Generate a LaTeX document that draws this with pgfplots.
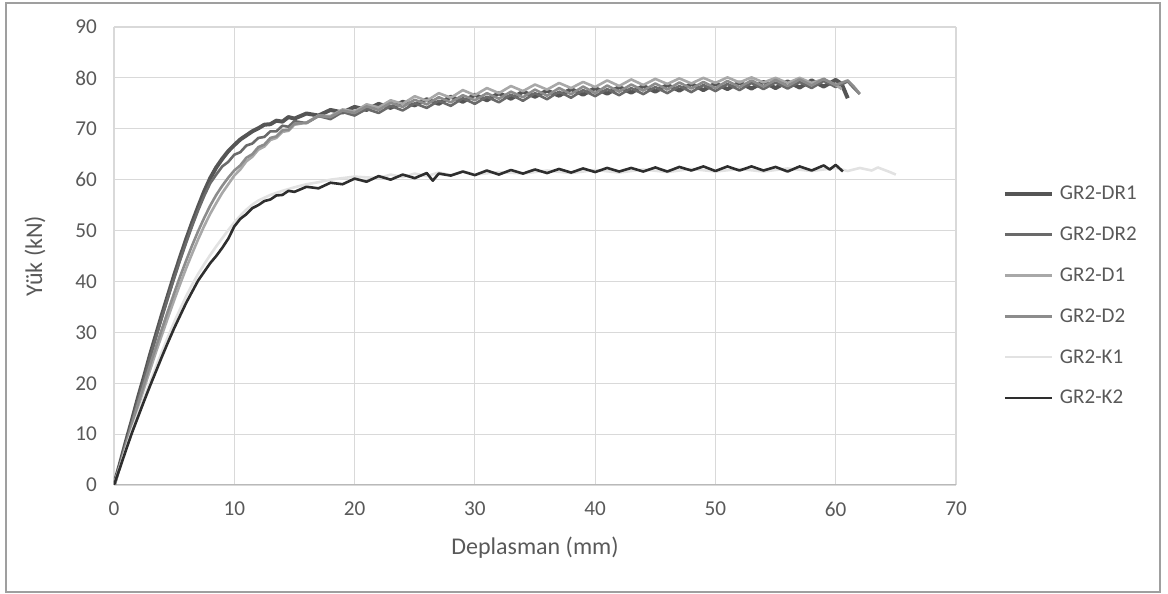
\documentclass[border=0pt]{standalone}
\usepackage{pgfplots}
\pgfplotsset{compat=1.18}
\usepackage{fontspec}
\setmainfont{Carlito}
\definecolor{txt}{HTML}{595959}
\definecolor{gridc}{HTML}{D9D9D9}
\definecolor{cDRa}{HTML}{555555}
\definecolor{cDRb}{HTML}{6A6A6A}
\definecolor{cDa}{HTML}{A8A8A8}
\definecolor{cDb}{HTML}{8C8C8C}
\definecolor{cKa}{HTML}{E2E2E2}
\definecolor{cKb}{HTML}{2E2E2E}
\begin{document}
\begin{tikzpicture}
\useasboundingbox (0,0) rectangle (584pt,297pt);
\draw[color=gray!75, line width=1pt] (3pt,1pt) rectangle (580pt,295.5pt);
\begin{axis}[
  at={(57pt,54.5pt)}, anchor=south west,
  scale only axis, width=421pt, height=229pt,
  xmin=0, xmax=70, ymin=0, ymax=90,
  xtick={0,10,...,70}, ytick={0,10,...,90},
  grid=major, grid style={color=gridc, line width=0.6pt},
  axis line style={draw=none},
  major tick length=0pt,
  /pgf/number format/assume math mode=true,
  ticklabel style={font=\fontsize{10.6}{12}\selectfont, text=txt},
  xticklabel style={yshift=-5pt},
  yticklabel style={xshift=-5pt},
  xlabel={Deplasman (mm)}, ylabel={Yük (kN)},
  every axis x label/.style={at={(rel axis cs:0.5,0)}, anchor=center, yshift=-31.5pt, font=\fontsize{12}{14}\selectfont, text=txt},
  every axis y label/.style={at={(rel axis cs:0,0.5)}, anchor=center, xshift=-39.5pt, rotate=90, font=\fontsize{12}{14}\selectfont, text=txt},
  legend style={at={(1.0558,0.4127)}, anchor=west, draw=none, fill=none,
    inner sep=0pt, outer sep=0pt, row sep=9.4pt,
    font=\fontsize{10.5}{12}\selectfont, text=txt,
    nodes={inner sep=0pt, text height=8.5pt, text depth=2.5pt}},
  legend cell align=left,
  legend image code/.code={\draw[#1, line cap=butt] (0pt,0pt) -- (23.5pt,0pt);},
  /tikz/every odd column/.style={column sep=3pt},
  every axis plot/.append style={line join=round},
]
\draw[color=gray!55, line width=0.8pt] (axis cs:0,0) -- (axis cs:70,0);
\addplot[color=cDRa, line width=2pt] coordinates {
(0,0)(0.5,4.2)(1,8.6)(1.5,12.8)(2,17.2)(2.5,21.3)(3,25.6)(3.5,29.6)(4,33.6)(4.5,37.4)(5,41.2)(5.5,44.8)(6,48.3)(6.5,51.6)(7,54.7)(7.5,57.7)(8,60.3)(8.5,62.4)(9,64.1)(9.5,65.6)(10,66.8)(10.5,67.9)(11,68.7)(11.5,69.5)(12,70.1)(12.5,70.8)(13,70.9)(13.5,71.6)(14,71.4)(14.5,72.3)(15,72.0)(16,73.0)(17,72.6)(18,73.7)(19,73.2)(20,74.3)(21,73.7)(22,74.9)(23,74.1)(24,75.3)(25,74.6)(26,75.8)(27,74.9)(28,76.3)(29,75.3)(30,76.7)(31,75.6)(32,77.0)(33,75.9)(34,77.3)(35,76.3)(36,77.5)(37,76.5)(38,77.8)(39,76.7)(40,78.0)(41,76.9)(42,78.2)(43,77.1)(44,78.4)(45,77.3)(46,78.6)(47,77.5)(48,78.8)(49,77.6)(50,78.9)(51,77.8)(52,79.1)(53,77.9)(54,79.2)(55,78.0)(56,79.3)(57,78.1)(58,79.5)(59,78.3)(60,79.6)(60.5,78.8)(61,76.0)
};
\addlegendentry{GR2-DR1}
\addplot[color=cDRb, line width=1.3pt] coordinates {
(0,0)(0.5,4.0)(1,8.3)(1.5,12.5)(2,16.8)(2.5,20.8)(3,25.1)(3.5,29.1)(4,33.0)(4.5,36.9)(5,40.6)(5.5,44.2)(6,47.6)(6.5,50.9)(7,54.0)(7.5,56.8)(8,59.3)(8.5,61.0)(9,62.6)(9.5,63.5)(10,64.9)(10.5,65.4)(11,66.7)(11.5,67.1)(12,68.2)(12.5,68.4)(13,69.5)(13.5,69.5)(14,70.6)(14.5,70.4)(15,71.5)(16,71.1)(17,72.5)(18,71.9)(19,73.3)(20,72.6)(21,73.9)(22,73.1)(23,74.5)(24,73.6)(25,75.0)(26,74.1)(27,75.5)(28,74.5)(29,76.0)(30,74.9)(31,76.3)(32,75.2)(33,76.7)(34,75.5)(35,77.0)(36,75.8)(37,77.3)(38,76.1)(39,77.6)(40,76.4)(41,77.8)(42,76.6)(43,78.0)(44,76.8)(45,78.2)(46,77.0)(47,78.4)(48,77.2)(49,78.6)(50,77.4)(51,78.8)(52,77.6)(53,79.0)(54,77.8)(55,79.1)(56,77.9)(57,79.2)(58,78.0)(59,79.4)(60,78.2)(61,79.3)(61.5,78.0)(62,76.8)
};
\addlegendentry{GR2-DR2}
\addplot[color=cDa, line width=1.3pt] coordinates {
(0,0)(0.5,3.7)(1,7.6)(1.5,11.5)(2,15.3)(2.5,19.0)(3,22.6)(3.5,26.2)(4,29.6)(4.5,33.0)(5,36.3)(5.5,39.5)(6,42.6)(6.5,45.5)(7,48.3)(7.5,50.9)(8,53.3)(8.5,55.4)(9,57.4)(9.5,59.1)(10,60.8)(10.5,62.0)(11,63.6)(11.5,64.5)(12,65.9)(12.5,66.5)(13,67.8)(13.5,68.2)(14,69.4)(14.5,69.6)(15,70.8)(16,71.2)(17,72.6)(18,72.5)(19,73.8)(20,73.4)(21,74.8)(22,74.2)(23,75.6)(24,74.9)(25,76.4)(26,75.5)(27,77.0)(28,76.1)(29,77.6)(30,76.6)(31,78.0)(32,77.0)(33,78.4)(34,77.4)(35,78.7)(36,77.7)(37,79.0)(38,78.0)(39,79.2)(40,78.2)(41,79.5)(42,78.4)(43,79.7)(44,78.6)(45,79.8)(46,78.8)(47,79.9)(48,78.9)(49,80.0)(50,79.0)(51,80.1)(52,79.1)(53,80.1)(54,79.1)(55,80.0)(56,79.0)(57,80.0)(58,79.0)(59,79.8)(60,78.6)(60.5,77.8)
};
\addlegendentry{GR2-D1}
\addplot[color=cDb, line width=1.3pt] coordinates {
(0,0)(0.5,3.9)(1,8.0)(1.5,12.0)(2,16.0)(2.5,19.8)(3,23.6)(3.5,27.2)(4,30.8)(4.5,34.3)(5,37.7)(5.5,41.0)(6,44.1)(6.5,47.1)(7,49.9)(7.5,52.5)(8,54.9)(8.5,57.0)(9,58.8)(9.5,60.4)(10,61.8)(10.5,62.8)(11,64.3)(11.5,65.0)(12,66.4)(12.5,66.9)(13,68.2)(13.5,68.5)(14,69.7)(14.5,69.8)(15,71.0)(16,71.2)(17,72.5)(18,72.3)(19,73.6)(20,73.1)(21,74.4)(22,73.7)(23,75.1)(24,74.3)(25,75.7)(26,74.8)(27,76.2)(28,75.2)(29,76.6)(30,75.6)(31,77.0)(32,75.9)(33,77.3)(34,76.2)(35,77.7)(36,76.5)(37,78.0)(38,76.8)(39,78.3)(40,77.0)(41,78.5)(42,77.3)(43,78.7)(44,77.5)(45,78.9)(46,77.7)(47,79.1)(48,77.9)(49,79.2)(50,78.0)(51,79.4)(52,78.2)(53,79.5)(54,78.3)(55,79.6)(56,78.4)(57,79.7)(58,78.5)(59,79.8)(60,78.6)(61,79.5)(61.5,78.3)(62,76.9)
};
\addlegendentry{GR2-D2}
\addplot[color=cKa, line width=1.3pt] coordinates {
(0,0)(0.5,3.6)(1,7.2)(1.5,10.8)(2,14.0)(2.5,17.1)(3,20.2)(3.5,23.3)(4,26.3)(4.5,29.2)(5,32.0)(5.5,34.6)(6,37.1)(6.5,39.4)(7,41.5)(7.5,43.4)(8,45.2)(8.5,46.9)(9,48.5)(9.5,50.1)(10,51.6)(10.5,52.9)(11,54.1)(11.5,55.1)(12,55.9)(13,57.0)(14,57.8)(15,58.5)(16,59.1)(17,59.5)(18,60.0)(19,60.3)(20,60.6)(22,60.3)(23,61.0)(24,60.5)(25,61.2)(26,60.7)(27,61.4)(28,60.9)(29,61.6)(30,61.0)(32,61.5)(34,61.2)(36,61.8)(38,61.3)(40,61.9)(42,61.4)(44,62.0)(46,61.5)(48,62.1)(50,61.6)(52,62.1)(54,61.6)(56,62.2)(58,61.7)(60,62.3)(61,61.7)(62,62.3)(63,61.8)(63.5,62.4)(64.5,61.5)(65,61.0)
};
\addlegendentry{GR2-K1}
\addplot[color=cKb, line width=1.3pt] coordinates {
(0,0)(0.5,3.4)(1,6.9)(1.5,10.3)(2,13.4)(2.5,16.5)(3,19.5)(3.5,22.4)(4,25.3)(4.5,28.1)(5,30.8)(5.5,33.3)(6,35.8)(6.5,38.0)(7,40.2)(7.5,41.9)(8,43.6)(8.5,45.0)(9,46.6)(9.5,48.4)(10,50.8)(10.5,52.3)(11,53.2)(11.5,54.4)(12,55.0)(12.5,55.8)(13,56.1)(13.5,56.9)(14,57.0)(14.5,57.8)(15,57.6)(16,58.6)(17,58.3)(18,59.4)(19,59.1)(20,60.2)(21,59.6)(22,60.7)(23,60.0)(24,61.0)(25,60.3)(26,61.3)(26.5,59.8)(27,61.2)(28,60.8)(29,61.6)(30,60.9)(31,61.8)(32,61.0)(33,61.9)(34,61.2)(35,62.0)(36,61.3)(37,62.1)(38,61.4)(39,62.2)(40,61.5)(41,62.3)(42,61.6)(43,62.3)(44,61.6)(45,62.4)(46,61.6)(47,62.5)(48,61.8)(49,62.6)(50,61.7)(51,62.6)(52,61.8)(53,62.6)(54,61.8)(55,62.5)(56,61.6)(57,62.6)(58,61.8)(59,62.8)(59.5,62.0)(60,62.9)(60.6,61.6)
};
\addlegendentry{GR2-K2}
\end{axis}
\end{tikzpicture}
\end{document}
